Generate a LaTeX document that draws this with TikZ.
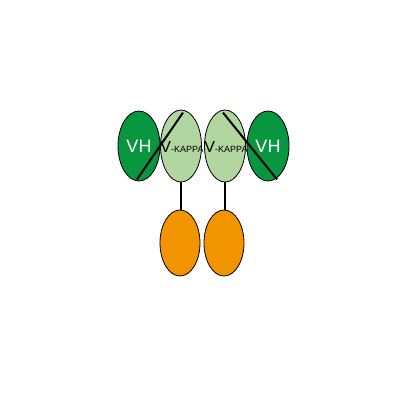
\documentclass[tikz,border=0pt]{standalone}
\usepackage{fontspec}
\setmainfont{Liberation Sans}
\usetikzlibrary{shapes.geometric}
\definecolor{vhgreen}{RGB}{8,150,64}
\definecolor{vkgreen}{RGB}{178,214,160}
\definecolor{cdorange}{RGB}{242,148,0}
\begin{document}
\begin{tikzpicture}[x=1pt, y=-1pt]
\tikzset{dom/.style={ellipse, draw=black, line width=0.8pt, inner sep=0pt, minimum width=42pt, minimum height=70pt},
  link/.style={line width=2pt}}
\useasboundingbox (0,0) rectangle (400,413);
% variable domains
\node[dom, fill=vhgreen] (VH_L) at (139,146) {};
\node[dom, fill=vkgreen, minimum width=41pt, minimum height=72pt] (VK_L) at (181,146) {};
\node[dom, fill=vkgreen, minimum width=41pt, minimum height=72pt] (VK_R) at (225,146) {};
\node[dom, fill=vhgreen] (VH_R) at (268,146) {};
% constant domains
\node[dom, fill=cdorange, minimum width=40pt, minimum height=66pt] (C_L) at (180,243) {};
\node[dom, fill=cdorange, minimum width=40pt, minimum height=66pt] (C_R) at (224,243) {};
\draw[link] (VK_L.south) -- (VK_L.south |- C_L.north);
\draw[link] (VK_R.south) -- (VK_R.south |- C_R.north);
\draw[link] ([xshift=-2pt,yshift=2pt]VH_L.south) -- ([xshift=2pt,yshift=-3pt]VK_L.north);
\draw[link] ([xshift=-2pt,yshift=-3pt]VK_R.north) -- ([xshift=9pt,yshift=2pt]VH_R.south);
% labels
\node[text=white, font=\fontsize{18}{18}\selectfont] (T_VH_L) at (VH_L) {VH};
\node[text=white, font=\fontsize{18}{18}\selectfont] (T_VH_R) at (VH_R) {VH};
\node[inner sep=0pt] (T_VK_L) at (182,147) {{\fontsize{16}{16}\selectfont V}{\fontsize{9}{9}\selectfont -KAPPA}};
\node[inner sep=0pt] (T_VK_R) at (226,147) {{\fontsize{16}{16}\selectfont V}{\fontsize{9}{9}\selectfont -KAPPA}};
\end{tikzpicture}
\end{document}
